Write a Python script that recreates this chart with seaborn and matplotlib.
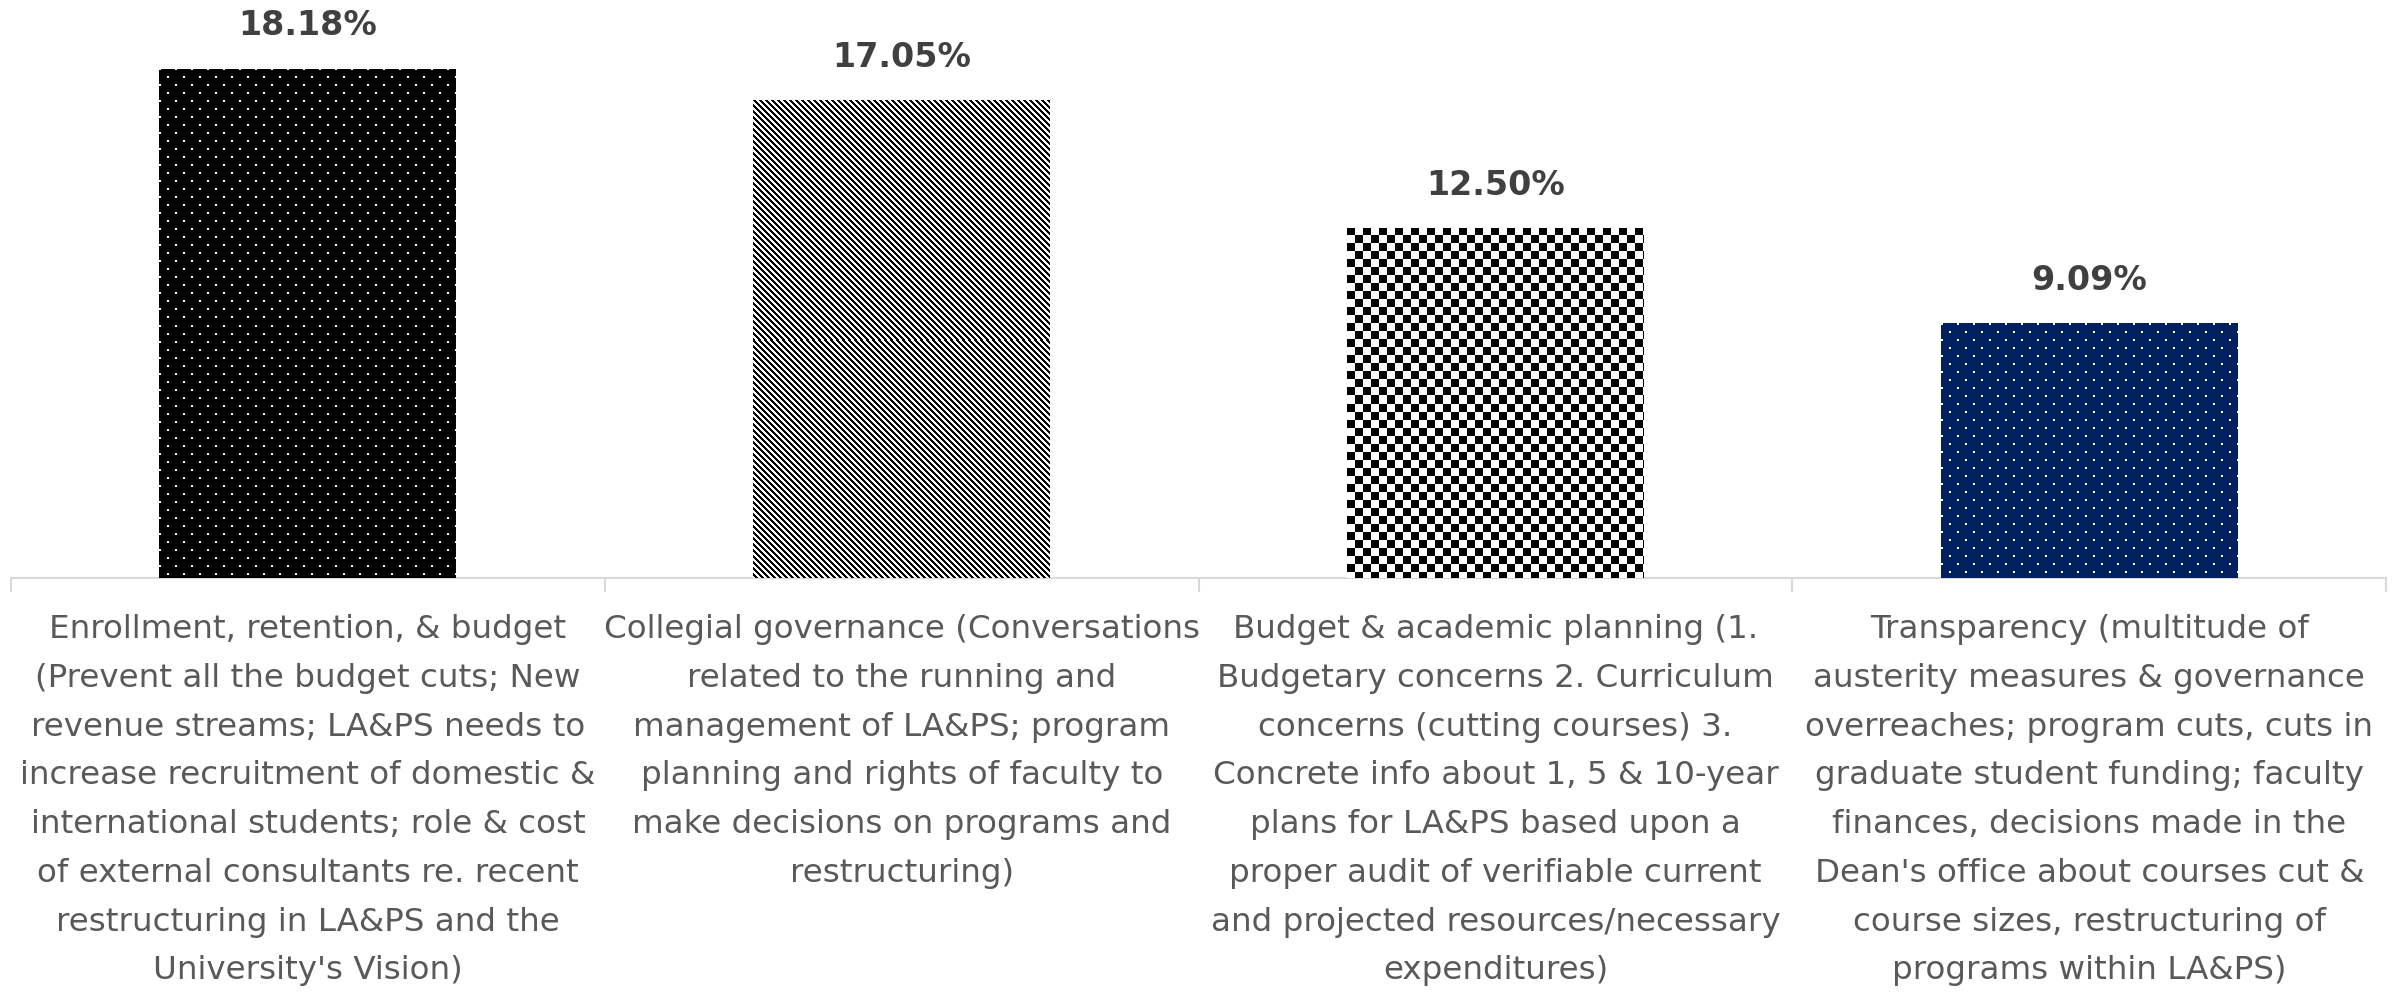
import numpy as np
import pandas as pd
import seaborn as sns
import matplotlib
matplotlib.use("Agg")
import matplotlib.pyplot as plt

# Chart data
categories = [
    "Enrollment, retention, & budget\n(Prevent all the budget cuts; New\nrevenue streams; LA&PS needs to\n"
    "increase recruitment of domestic &\ninternational students; role & cost\nof external consultants re. recent\n"
    "restructuring in LA&PS and the\nUniversity's Vision)",
    "Collegial governance (Conversations\nrelated to the running and\nmanagement of LA&PS; program\n"
    "planning and rights of faculty to\nmake decisions on programs and\nrestructuring)",
    "Budget & academic planning (1.\nBudgetary concerns 2. Curriculum\nconcerns (cutting courses) 3.\n"
    "Concrete info about 1, 5 & 10-year\nplans for LA&PS based upon a\nproper audit of verifiable current\n"
    "and projected resources/necessary\nexpenditures)",
    "Transparency (multitude of\nausterity measures & governance\noverreaches; program cuts, cuts in\n"
    "graduate student funding; faculty\nfinances, decisions made in the\nDean's office about courses cut &\n"
    "course sizes, restructuring of\nprograms within LA&PS)",
]
values = [18.18, 17.05, 12.50, 9.09]
labels = ["18.18%", "17.05%", "12.50%", "9.09%"]
textures = ["dots", "stripes", "checker", "dots"]
base_colors = ["#000000", "#ffffff", "#ffffff", "#002060"]

df = pd.DataFrame({"category": categories, "value": values})

sns.set_style("white")
plt.rcParams["font.family"] = ["DejaVu Sans"]

fig = plt.figure(figsize=(24.03, 9.93), dpi=100)
ax = fig.add_axes([0.0046, 0.418, 0.9884, 0.564])

sns.barplot(data=df, x="category", y="value", hue="category", palette=base_colors,
            width=0.5, legend=False, ax=ax, saturation=1)
ax.set_ylim(0, 20)
ax.set_xlim(-0.5, 3.5)


def make_texture(kind, w, h, base):
    r, c = np.mgrid[0:h, 0:w]
    rgb = np.array(matplotlib.colors.to_rgb(base))
    img = np.ones((h, w, 3)) * rgb
    if kind == "dots":
        on = ((r % 8) < 2) & (((c - (r // 8 % 2) * 8) % 16) < 2)
        img[on] = 1.0
    elif kind == "stripes":
        on = ((c - r) % 6) < 3
        img[:] = 1.0
        img[on] = 0.0
    elif kind == "checker":
        on = ((r // 8 + c // 8) % 2) == 0
        img[:] = 1.0
        img[on] = 0.0
    return img


# pixel textures clipped to each bar
for bar, kind, base in zip(ax.patches, textures, base_colors):
    x0, y0 = bar.get_x(), bar.get_y()
    x1, y1 = x0 + bar.get_width(), y0 + bar.get_height()
    p = ax.transData.transform([[x0, y0], [x1, y1]])
    w = int(round(abs(p[1, 0] - p[0, 0])))
    h = int(round(abs(p[1, 1] - p[0, 1])))
    img = make_texture(kind, w, h, base)
    im = ax.imshow(img, extent=(x0, x1, y0, y1), origin="upper",
                   interpolation="nearest", aspect="auto", zorder=3)
    im.set_clip_path(bar)
    bar.set_edgecolor("none")

for bar, lab in zip(ax.patches, labels):
    ax.annotate(lab, (bar.get_x() + bar.get_width() / 2, bar.get_height()),
                xytext=(0, 19), textcoords="offset points", ha="center", va="bottom",
                fontsize=24, fontweight="bold", color="#404040")

ax.set_aspect("auto")
ax.set_xlabel("")
ax.set_ylabel("")
ax.set_yticks([])
for s in ["top", "right", "left"]:
    ax.spines[s].set_visible(False)
ax.spines["bottom"].set_color("#d9d9d9")
ax.spines["bottom"].set_linewidth(1.5)

ax.set_xticks(range(len(categories)))
ax.set_xticklabels(categories, fontsize=23.4, color="#595959", linespacing=1.74, va="top")
ax.set_xticks([-0.5, 0.5, 1.5, 2.5, 3.5], minor=True)
ax.tick_params(axis="x", which="both", bottom=True)
ax.tick_params(axis="x", which="major", length=0, pad=26)
ax.tick_params(axis="x", which="minor", length=10, width=1.5, color="#d9d9d9", direction="out")

fig.savefig("out.png", dpi=100)
